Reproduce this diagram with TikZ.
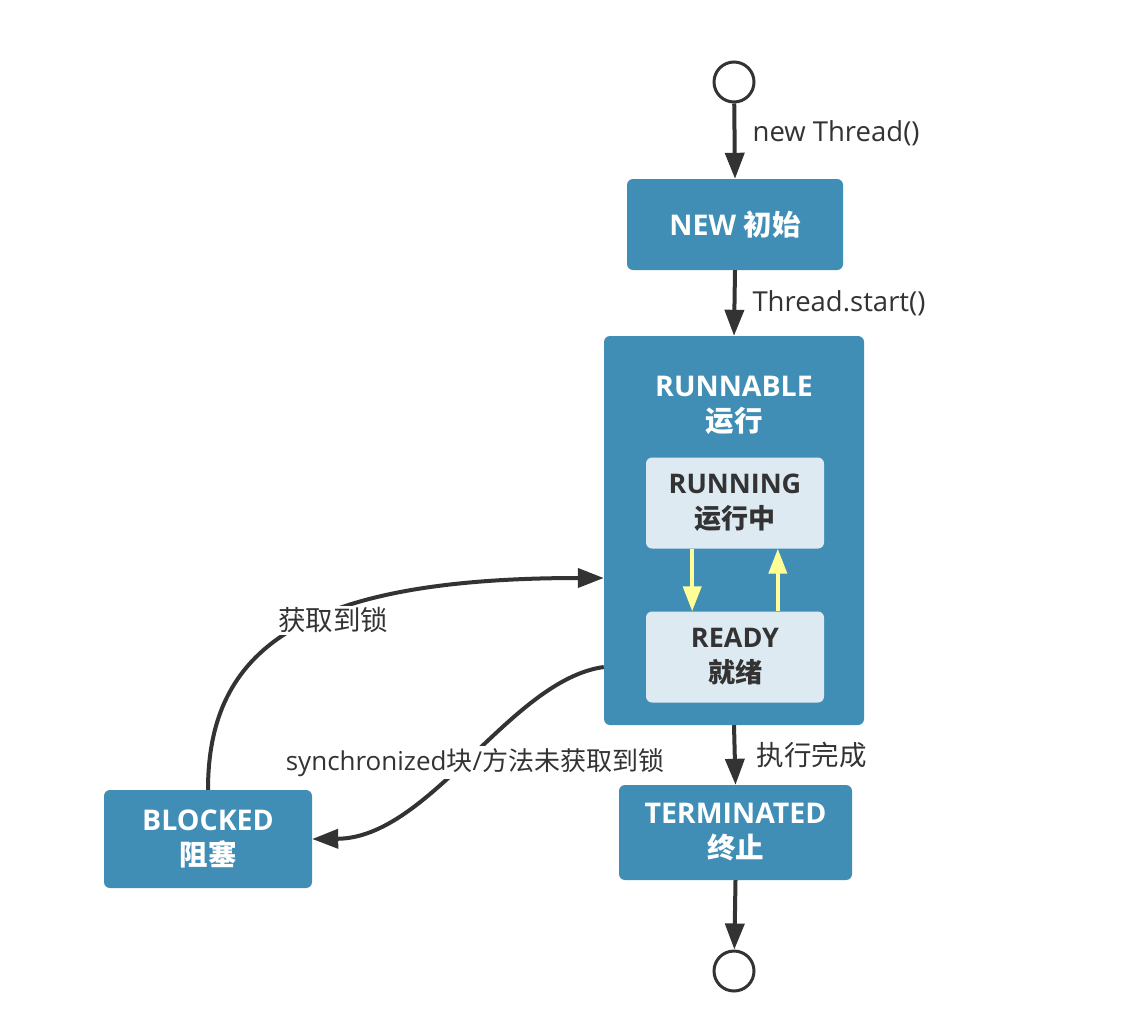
\documentclass[tikz,border=0pt]{standalone}
\usepackage{fontspec}
\setmainfont{Open Sans}
\newfontfamily\cjk{Noto Sans CJK SC}
\usetikzlibrary{arrows.meta,calc}
\definecolor{boxblue}{RGB}{64,142,182}
\definecolor{innerbox}{RGB}{222,234,241}
\definecolor{darktext}{RGB}{51,51,51}
\definecolor{yellowarrow}{RGB}{255,255,150}
\tikzset{
  statebox/.style={fill=boxblue, rounded corners=6pt, inner sep=0pt, text=white, font=\fontsize{28.5}{35}\selectfont\bfseries, align=center},
  innerstate/.style={fill=innerbox, rounded corners=6pt, inner sep=0pt, text=darktext, font=\fontsize{27}{35}\selectfont\bfseries, align=center},
  endpoint/.style={circle, draw=darktext, line width=3pt, fill=white, minimum size=40pt, inner sep=0pt},
  flow/.style={draw=darktext, line width=4pt, -{Triangle[length=26pt,width=19pt]}},
  yflow/.style={draw=yellowarrow, line width=4pt, -{Triangle[length=25pt,width=18pt]}},
  edgelabel/.style={text=darktext, font=\fontsize{27.5}{32}\selectfont, inner sep=2pt},
}
\begin{document}
\begin{tikzpicture}[x=1pt,y=-1pt]
\useasboundingbox[fill=white] (0,0) rectangle (1148,1026);
% nodes
\node[endpoint] (start) at (734,82) {};
\node[statebox, minimum width=216pt, minimum height=91pt] (new) at (735,224.5) {NEW {\cjk 初始}};
\node[statebox, minimum width=260pt, minimum height=389pt] (runnable) at (734,530.5) {};
\node[text=white, font=\fontsize{28.5}{35}\selectfont\bfseries, align=center] (runtitle) at (734,405) {RUNNABLE\\{\cjk 运行}};
\node[innerstate, minimum width=178pt, minimum height=91pt] (running) at (735,503) {RUNNING\\{\cjk 运行中}};
\node[innerstate, minimum width=178pt, minimum height=91pt] (ready) at (735,657) {READY\\{\cjk 就绪}};
\node[statebox, minimum width=233pt, minimum height=95pt] (term) at (735.5,832.5) {TERMINATED\\{\cjk 终止}};
\node[endpoint] (end) at (734,971) {};
\node[statebox, minimum width=208pt, minimum height=98pt] (blocked) at (208,839) {BLOCKED\\{\cjk 阻塞}};
% straight connectors
\draw[flow] (start) -- (new.north) node[edgelabel, midway, anchor=west, xshift=14pt, yshift=8pt] (l1) {new Thread()};
\draw[flow] (new.south) -- (runnable.north) node[edgelabel, midway, anchor=west, xshift=14pt] (l2) {Thread.start()};
\draw[flow] (runnable.south) -- (term.north) node[edgelabel, midway, anchor=west, xshift=18pt] (l3) {\cjk 执行完成};
\draw[flow] (term.south) -- (end);
% yellow arrows
\draw[yflow] ($(running.south west)!.26!(running.south east)$) -- ($(ready.north west)!.26!(ready.north east)$);
\draw[yflow] ($(ready.north west)!.74!(ready.north east)$) -- ($(running.south west)!.74!(running.south east)$);
% curved connectors
\draw[flow] (blocked.north) .. controls (208,650) and (300,578) .. ([yshift=-47.5pt]runnable.west)
  node[edgelabel, pos=0.6, fill=white, yshift=-8pt] (l4) {\cjk 获取到锁};
\draw[flow] ([yshift=-136.5pt]runnable.west) .. controls (510,680) and (430,838) .. (blocked.east)
  node[edgelabel, pos=0.5, fill=white, xshift=8pt, yshift=-5pt, font=\fontsize{26}{30}\selectfont] (l5) {synchronized{\cjk 块}/{\cjk 方法未获取到锁}};
\end{tikzpicture}
\end{document}
